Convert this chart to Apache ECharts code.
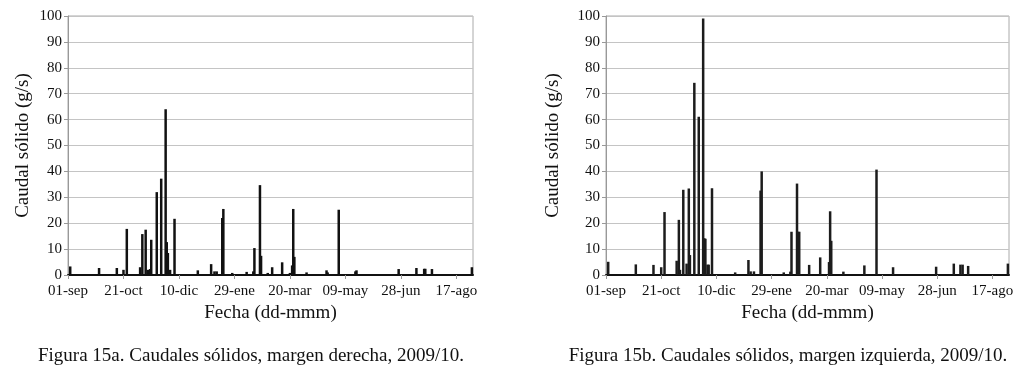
<!DOCTYPE html>
<html>
<head>
<meta charset="utf-8">
<script src="https://cdn.jsdelivr.net/npm/echarts@6/dist/echarts.min.js"></script>
<style>
  html, body { margin: 0; padding: 0; background: #fff; }
  #chart { width: 1029px; height: 386px; }
</style>
</head>
<body>
<div id="chart"></div>
<script>
// dias desde el 01-sep-2009
const xTicks = [0, 50, 100, 150, 200, 250, 300, 350];
const xLabels = ["01-sep", "21-oct", "10-dic", "29-ene", "20-mar", "09-may", "28-jun", "17-ago"];

// Figura 15a, margen derecha
const daysA = [2, 28, 44, 50, 53, 65, 67, 70, 72, 74, 75, 80, 84, 88, 89, 90, 92, 96, 117, 129,
  132, 134, 139, 140, 148, 161, 167, 168, 173, 174, 180, 184, 193, 200, 202, 203, 204, 215, 233, 234,
  244, 259, 260, 298, 314, 321, 322, 328, 364];
const valsA = [3.3, 2.7, 2.7, 2, 17.8, 3, 15.8, 17.5, 2, 2.3, 13.6, 32, 37.2, 64, 12.7, 8.5, 2, 21.7, 1.8, 4.2,
  1.4, 1.4, 22, 25.5, 0.8, 1.2, 1.4, 10.4, 34.7, 7.4, 0.8, 3, 4.9, 0.8, 3.7, 25.5, 7, 1, 1.8, 1,
  25.2, 1.4, 1.8, 2.3, 2.7, 2.4, 2.4, 2.3, 3];

// Figura 15b, margen izquierda
const daysB = [2, 27, 43, 50, 53, 64, 66, 67, 70, 73, 75, 76, 80, 84, 88, 89, 90, 92, 93, 96,
  117, 129, 131, 134, 140, 141, 161, 167, 168, 173, 174, 175, 184, 194, 202, 203, 204, 215, 234, 245,
  260, 299, 315, 321, 323, 328, 364];
const valsB = [5.1, 4.1, 3.9, 3, 24.3, 5.5, 21.3, 2, 32.9, 4.4, 33.4, 7.7, 74.2, 61.1, 99, 14.2, 14, 4, 4, 33.5,
  1, 5.8, 1.4, 1.4, 32.6, 40, 1, 1.3, 16.7, 35.3, 16.7, 16.7, 3.9, 6.8, 5, 24.6, 13.2, 1.3, 3.7, 40.7,
  3, 3.2, 4.4, 4, 4, 3.5, 4.4];

const yName = "Caudal sólido (g/s)";
const xName = "Fecha (dd-mmm)";
const captions = [
  "Figura 15a. Caudales sólidos, margen derecha, 2009/10.",
  "Figura 15b. Caudales sólidos, margen izquierda, 2009/10.",
];

const FONT = "Liberation Serif";
const pairs = (d, v) => d.map((x, i) => [x, v[i]]);

function xAxis(gridIndex) {
  return {
    gridIndex,
    type: "value",
    min: 0,
    max: 365,
    interval: 50,
    name: xName,
    nameLocation: "middle",
    nameGap: 28,
    nameTextStyle: { fontFamily: FONT, fontSize: 19, color: "#111" },
    axisLine: { show: true, lineStyle: { color: "#111", width: 2 } },
    axisTick: { show: true, length: 4, customValues: xTicks, lineStyle: { color: "#999" } },
    axisLabel: {
      customValues: xTicks,
      margin: 9,
      fontFamily: FONT,
      fontSize: 15,
      color: "#111",
      formatter: (v) => xLabels[xTicks.indexOf(v)] || "",
    },
    splitLine: { show: false },
  };
}

function yAxis(gridIndex, gap) {
  return {
    gridIndex,
    type: "value",
    min: 0,
    max: 100,
    interval: 10,
    name: yName,
    nameLocation: "middle",
    nameGap: gap,
    nameTextStyle: { fontFamily: FONT, fontSize: 19, color: "#111" },
    axisLine: { show: true, lineStyle: { color: "#999" } },
    axisTick: { show: true, length: 4, lineStyle: { color: "#999" } },
    axisLabel: { margin: 6, fontFamily: FONT, fontSize: 15, color: "#111" },
    splitLine: { lineStyle: { color: "#c4c4c4", width: 1.2 } },
  };
}

const chart = echarts.init(document.getElementById("chart"));
chart.setOption({
  animation: false,
  backgroundColor: "#fff",
  grid: [
    { left: 68, top: 16, width: 405, height: 259, show: true, borderColor: "#aaa", borderWidth: 1 },
    { left: 606, top: 16, width: 403, height: 259, show: true, borderColor: "#aaa", borderWidth: 1 },
  ],
  xAxis: [xAxis(0), xAxis(1)],
  yAxis: [yAxis(0, 35), yAxis(1, 43)],
  series: [
    {
      type: "bar",
      xAxisIndex: 0,
      yAxisIndex: 0,
      barWidth: 2.5,
      itemStyle: { color: "#111" },
      data: pairs(daysA, valsA),
    },
    {
      type: "bar",
      xAxisIndex: 1,
      yAxisIndex: 1,
      barWidth: 2.5,
      itemStyle: { color: "#1c1c1c" },
      data: pairs(daysB, valsB),
    },
  ],
  graphic: [
    {
      type: "text",
      x: 251,
      y: 356,
      style: { text: captions[0], align: "center", verticalAlign: "middle", font: "19px '" + FONT + "'", fill: "#111" },
    },
    {
      type: "text",
      x: 788,
      y: 356,
      style: { text: captions[1], align: "center", verticalAlign: "middle", font: "19px '" + FONT + "'", fill: "#111" },
    },
  ],
});
</script>
</body>
</html>
